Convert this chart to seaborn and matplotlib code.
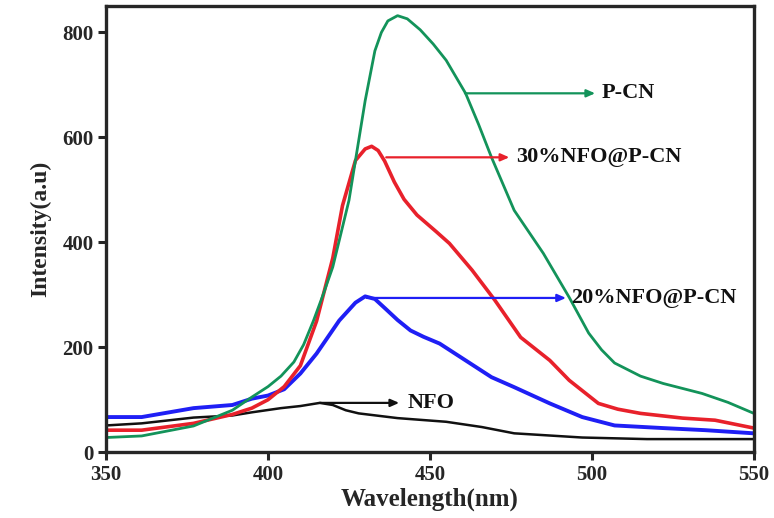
import numpy as np
import pandas as pd
import matplotlib
matplotlib.use("Agg")
import matplotlib.pyplot as plt
import seaborn as sns

# PL spectra (wavelength in nm, intensity in a.u.)
wl_pcn = [350, 361, 377, 389, 395, 400, 404, 408, 411, 414, 417, 420, 425, 430, 433, 435, 437, 440,
          443, 447, 451, 455, 461, 465, 469, 476, 485, 493, 499, 503, 507, 515, 522, 534, 542, 550]
i_pcn = [28, 31, 50, 80, 105, 125, 145, 172, 205, 250, 300, 353, 480, 670, 765, 800, 822, 832,
         826, 805, 778, 747, 684, 625, 562, 461, 379, 295, 227, 195, 170, 145, 131, 112, 95, 74]

wl_30 = [350, 361, 377, 389, 395, 400, 405, 410, 415, 420, 423, 427, 430, 432, 434, 436, 439, 442,
         446, 449, 452, 456, 463, 470, 478, 487, 493, 502, 508, 515, 528, 538, 550]
i_30 = [42, 42, 55, 72, 84, 100, 125, 165, 250, 370, 470, 556, 578, 583, 575, 555, 515, 482,
        452, 436, 420, 398, 347, 290, 219, 175, 137, 93, 82, 74, 65, 61, 46]

wl_20 = [350, 361, 377, 389, 395, 400, 405, 410, 415, 422, 427, 430, 433, 436, 440, 444, 448, 453,
         461, 469, 476, 487, 497, 507, 522, 535, 550]
i_20 = [67, 67, 84, 90, 102, 108, 120, 150, 188, 251, 285, 297, 292, 275, 252, 232, 220, 207,
        175, 143, 124, 93, 67, 51, 46, 42, 36]

wl_nfo = [350, 361, 377, 389, 395, 404, 410, 416, 420, 424, 428, 440, 455, 466, 476, 497, 517, 550]
i_nfo = [51, 55, 66, 70, 76, 84, 88, 94, 90, 80, 74, 65, 58, 48, 36, 28, 25, 25]

names = ["P-CN", "30%NFO@P-CN", "20%NFO@P-CN", "NFO"]
colors = {"P-CN": "#13935a", "30%NFO@P-CN": "#e8212b", "20%NFO@P-CN": "#1f1ff5", "NFO": "#111111"}
widths = {"P-CN": 2.0, "30%NFO@P-CN": 2.6, "20%NFO@P-CN": 2.8, "NFO": 1.8}

frames = []
for name, wl, inten in zip(names, [wl_pcn, wl_30, wl_20, wl_nfo], [i_pcn, i_30, i_20, i_nfo]):
    frames.append(pd.DataFrame({"wl": wl, "I": inten, "sample": name}))
df = pd.concat(frames, ignore_index=True)

sns.set_style("ticks")
plt.rcParams["font.family"] = ["Liberation Serif", "DejaVu Serif"]
plt.rcParams["font.weight"] = "bold"

fig = plt.figure(figsize=(7.74, 5.18), dpi=100)
ax = fig.add_axes([0.137, 0.127, 0.837, 0.861])

for name in ["NFO", "20%NFO@P-CN", "30%NFO@P-CN", "P-CN"]:
    sub = df[df["sample"] == name]
    sns.lineplot(data=sub, x="wl", y="I", ax=ax, color=colors[name], lw=widths[name],
                 sort=False, estimator=None)

ax.set_xlim(350, 550)
ax.set_ylim(0, 850)
ax.set_xticks([350, 400, 450, 500, 550])
ax.set_yticks([0, 200, 400, 600, 800])
ax.set_xlabel("Wavelength(nm)", fontsize=18, fontweight="bold", labelpad=2)
ax.set_ylabel("Intensity(a.u)", fontsize=17, fontweight="bold", labelpad=8)
ax.tick_params(axis="both", direction="out", length=6, width=2.2, labelsize=15, pad=3)
for lab in ax.get_xticklabels() + ax.get_yticklabels():
    lab.set_fontweight("bold")
for sp in ax.spines.values():
    sp.set_linewidth(2.4)
    sp.set_visible(True)

# arrows pointing from each curve to its label
labels = [
    ("P-CN", 460.8, 684, 501, 503),
    ("30%NFO@P-CN", 436.5, 562, 474.5, 476.5),
    ("20%NFO@P-CN", 430.5, 294, 492, 493.5),
    ("NFO", 416, 94, 440.5, 443),
]
for name, x0, y, x1, xt in labels:
    ax.annotate("", xy=(x1, y), xytext=(x0, y),
                arrowprops=dict(arrowstyle="-|>,head_length=0.5,head_width=0.22",
                                color=colors[name], lw=1.6, shrinkA=0, shrinkB=0))
    ax.text(xt, y, name, fontsize=16, fontweight="bold", va="center", ha="left", color="#111111")

fig.savefig("out.png", dpi=100)
